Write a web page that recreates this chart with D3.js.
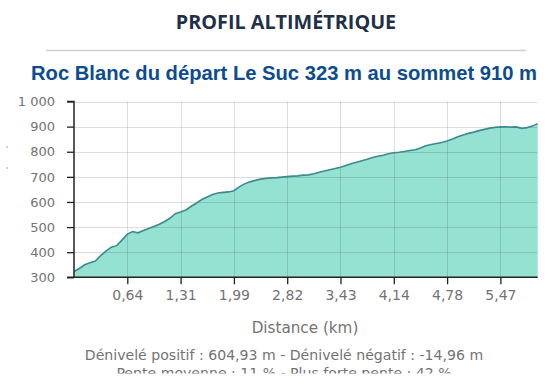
<!DOCTYPE html>
<html><head><meta charset="utf-8">
<script src="https://cdn.jsdelivr.net/npm/d3@7"></script>
<style>
html,body{margin:0;padding:0;background:#fff;}
svg{display:block;}
</style></head>
<body>
<svg id="c" width="550" height="384"></svg>
<script>
const elevations = [323,335,350,358,365,386,404,420,426,448,472,482,477,486,494,502,511,522,535,553,560,568,583,596,610,620,630,636,638,640,645,660,672,680,686,691,694,696,697,699,701,703,704,707,708,712,718,723,728,733,738,745,752,758,764,770,777,782,786,792,796,798,801,805,808,815,824,829,833,837,843,851,860,867,873,878,884,889,894,897,899,899,898,899,893,896,902,912];
const tickIndex = [10,20,30,40,50,60,70,80];
const tickLabels = ["0,64","1,31","1,99","2,82","3,43","4,14","4,78","5,47"];
const yTicks = [300,400,500,600,700,800,900,1000];
const title = "PROFIL ALTIMÉTRIQUE";
const subtitle = "Roc Blanc du départ Le Suc 323 m au sommet 910 m";
const xTitle = "Distance (km)";
const footer1 = "Dénivelé positif : 604,93 m - Dénivelé négatif : -14,96 m";
const footer2 = "Pente moyenne : 11 % - Plus forte pente : 42 %";

const svg = d3.select("#c");
const L = 74, R = 537.7, T = 101.5, B = 277.3;
const x = d3.scaleLinear().domain([0, elevations.length - 1]).range([L, R]);
const y = d3.scaleLinear().domain([300, 1000]).range([B, T]);
const font = "'DejaVu Sans', Verdana, sans-serif";
const grey = "#737373";

svg.append("text").attr("x", 286).attr("y", 29).attr("text-anchor", "middle")
  .attr("font-family", "'Open Sans', sans-serif").attr("font-weight", 700)
  .attr("font-size", 19.8).attr("fill", "#1f3048").text(title);
svg.append("line").attr("x1", 46).attr("x2", 526).attr("y1", 50.5).attr("y2", 50.5)
  .attr("stroke", "#cfcfcf").attr("stroke-width", 1.5);
svg.append("text").attr("x", 284).attr("y", 80).attr("text-anchor", "middle")
  .attr("font-family", "'Liberation Sans', Arial, sans-serif").attr("font-weight", 700)
  .attr("font-size", 20.2).attr("fill", "#0d4c8f").text(subtitle);

// area
const area = d3.area().x((d,i)=>x(i)).y0(B).y1(d=>y(d));
const line = d3.line().x((d,i)=>x(i)).y(d=>y(d));
svg.append("path").datum(elevations).attr("d", area).attr("fill", "#95e1d2");

// grid
const g = svg.append("g");
g.selectAll(".hg").data(yTicks.filter(v=>v>300)).enter().append("line")
  .attr("x1", L).attr("x2", R).attr("y1", d=>Math.round(y(d))+0.5).attr("y2", d=>Math.round(y(d))+0.5)
  .attr("stroke", "rgba(0,0,0,0.13)").attr("stroke-width", 1);
g.selectAll(".vg").data(tickIndex).enter().append("line")
  .attr("x1", d=>Math.round(x(d))+0.5).attr("x2", d=>Math.round(x(d))+0.5).attr("y1", T).attr("y2", B)
  .attr("stroke", "rgba(0,0,0,0.13)").attr("stroke-width", 1);

svg.append("path").datum(elevations).attr("d", line).attr("fill", "none")
  .attr("stroke", "#3b8a90").attr("stroke-width", 1.6);

// axes
const ya = svg.append("g").attr("transform", `translate(${L},0)`)
  .call(d3.axisLeft(y).tickValues(yTicks).tickSize(7).tickPadding(12)
    .tickFormat(d => d3.format(",")(d).replace(",", " ")));
const xa = svg.append("g").attr("transform", `translate(0,${B})`)
  .call(d3.axisBottom(x).tickValues(tickIndex).tickSize(7).tickPadding(6)
    .tickFormat((d,i)=>tickLabels[i]));
[ya, xa].forEach(a => {
  a.select(".domain").attr("stroke", "#222").attr("stroke-width", 1.5);
  a.selectAll(".tick line").attr("stroke", "#222").attr("stroke-width", 1.3);
  a.selectAll("text").attr("font-family", font).attr("fill", grey);
});
ya.selectAll("text").attr("font-size", 13);
xa.selectAll("text").attr("font-size", 14);
ya.select(".domain").attr("d", `M-7,${T}H0V${B}H-7`);
xa.select(".domain").attr("d", `M${L},0H${R}`);

svg.append("text").attr("x", 305).attr("y", 333).attr("text-anchor", "middle")
  .attr("font-family", font).attr("font-size", 15.2).attr("fill", grey).text(xTitle);

const clip = svg.append("clipPath").attr("id", "fclip");
clip.append("rect").attr("x", 0).attr("y", 340).attr("width", 550).attr("height", 33.5);
const f = svg.append("g").attr("clip-path", "url(#fclip)");
f.append("text").attr("x", 284).attr("y", 360).attr("text-anchor", "middle")
  .attr("font-family", font).attr("font-size", 14.1).attr("fill", grey).text(footer1);
f.append("text").attr("x", 284).attr("y", 378).attr("text-anchor", "middle")
  .attr("font-family", font).attr("font-size", 14.1).attr("fill", grey).text(footer2);

svg.selectAll(".dot").data([147, 168]).enter().append("circle")
  .attr("cx", 7).attr("cy", d=>d).attr("r", 0.9).attr("fill", "#bbb");
</script>
</body></html>
